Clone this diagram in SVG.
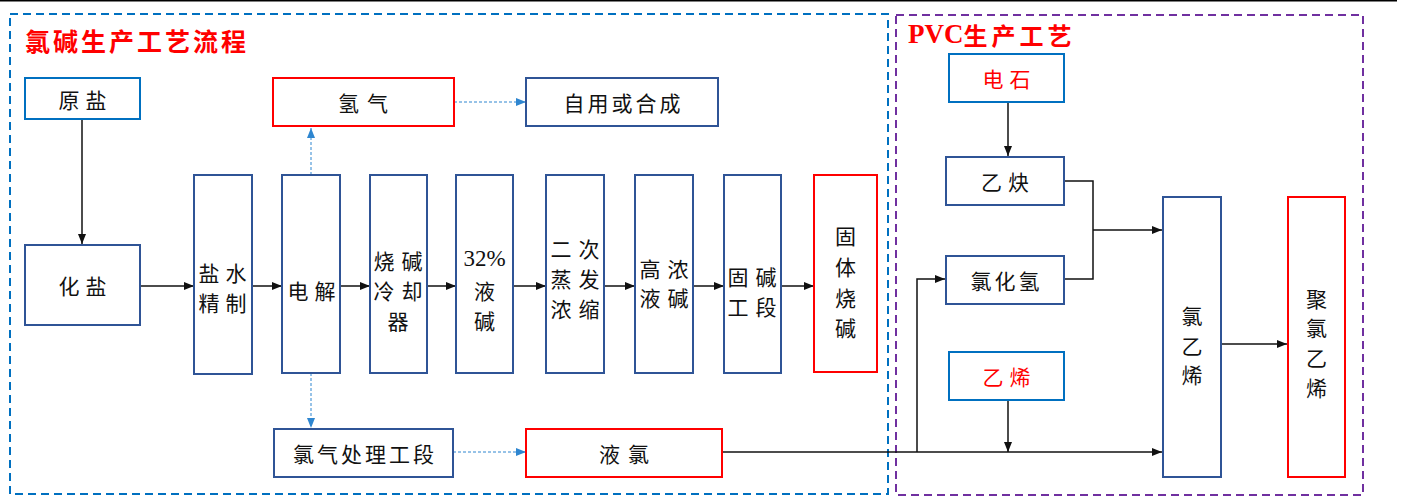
<svg xmlns="http://www.w3.org/2000/svg" width="1405" height="497" viewBox="0 0 1405 497">
<style>
.t{font-family:"Noto Sans CJK SC","Noto Sans CJK JP",sans-serif;font-size:21px;fill:#111;text-anchor:middle;dominant-baseline:central}
.r{fill:#FF0000}
.bx{fill:#fff;stroke:#2F5496;stroke-width:2}
.bl{fill:#fff;stroke:#0070C0;stroke-width:2}
.rd{fill:#fff;stroke:#FF0000;stroke-width:2}
.c{fill:none;stroke:#111;stroke-width:1.5}
.d{fill:none;stroke:#2E86D0;stroke-width:1;stroke-dasharray:3 2}
</style>
<defs>
<marker id="a" markerUnits="userSpaceOnUse" markerWidth="10" markerHeight="10" refX="10" refY="5" orient="auto" viewBox="0 0 10 10"><path d="M0,1 L10,5 L0,9 z" fill="#111"/></marker>
<marker id="b" markerUnits="userSpaceOnUse" markerWidth="10" markerHeight="10" refX="10" refY="5" orient="auto" viewBox="0 0 10 10"><path d="M0,1 L10,5 L0,9 z" fill="#2E86D0"/></marker>
</defs>
<rect width="1405" height="497" fill="#fff"/>
<line x1="0" y1="0.75" x2="1397" y2="0.75" stroke="#000" stroke-width="1.5"/>
<g id="frame-chloralkali">
<rect x="10" y="14" width="878" height="480" fill="none" stroke="#0070C0" stroke-width="2" stroke-dasharray="8 5"/>
<text x="25" y="40" class="t r" style="text-anchor:start;font-size:25px;font-weight:bold;letter-spacing:3px">氯碱生产工艺流程</text>
</g>
<g id="frame-pvc">
<rect x="896" y="15" width="467" height="480" fill="none" stroke="#7030A0" stroke-width="2" stroke-dasharray="8 5"/>
<text x="908" y="34" class="t r" style="text-anchor:start;font-size:24px;font-weight:bold;letter-spacing:4px"><tspan style="font-family:'Liberation Serif',serif;font-size:27px;letter-spacing:0">PVC</tspan>生产工艺</text>
</g>
<g id="connectors">
<path class="c" d="M82,119 V244" marker-end="url(#a)"/>
<path class="c" d="M140,286 H194" marker-end="url(#a)"/>
<path class="c" d="M252,286 H282" marker-end="url(#a)"/>
<path class="c" d="M340,286 H370" marker-end="url(#a)"/>
<path class="c" d="M427,286 H456" marker-end="url(#a)"/>
<path class="c" d="M513,286 H546" marker-end="url(#a)"/>
<path class="c" d="M604,286 H635" marker-end="url(#a)"/>
<path class="c" d="M693,286 H724" marker-end="url(#a)"/>
<path class="c" d="M781,286 H814" marker-end="url(#a)"/>
<path class="d" d="M311,175 V128" marker-end="url(#b)"/>
<path class="d" d="M311,373 V428" marker-end="url(#b)"/>
<path class="d" d="M454,102 H526" marker-end="url(#b)"/>
<path class="d" d="M453,452 H526" marker-end="url(#b)"/>
<path class="c" d="M722,452 H1162" marker-end="url(#a)"/>
<path class="c" d="M917,452 V279 H945" marker-end="url(#a)"/>
<path class="c" d="M1008,400 V452" marker-end="url(#a)"/>
<path class="c" d="M1008,102 V156" marker-end="url(#a)"/>
<path class="c" d="M1064,181 H1093 V279 H1064"/>
<path class="c" d="M1093,230 H1162" marker-end="url(#a)"/>
<path class="c" d="M1221,344 H1287" marker-end="url(#a)"/>
</g>
<g id="n-yuanyan"><rect class="bl" x="25" y="78" width="115" height="41"/><text class="t" x="85.5" y="98.5" style="letter-spacing:6px">原盐</text></g>
<g id="n-huayan"><rect class="bx" x="25" y="245" width="115" height="80"/><text class="t" x="85.5" y="285" style="letter-spacing:6px">化盐</text></g>
<g id="n-qingqi"><rect class="rd" x="273" y="78" width="181" height="48"/><text class="t" x="367" y="102" style="letter-spacing:8px">氢气</text></g>
<g id="n-ziyong"><rect class="bx" x="526" y="78" width="192" height="48"/><text class="t" x="623.5" y="102" style="letter-spacing:3px">自用或合成</text></g>
<g id="n-yanshui"><rect class="bx" x="194" y="175" width="58" height="199"/><text class="t" x="209" y="272">盐</text><text class="t" x="236" y="272">水</text><text class="t" x="209" y="302">精</text><text class="t" x="236" y="302">制</text></g>
<g id="n-dianjie"><rect class="bx" x="282" y="175" width="58" height="198"/><text class="t" x="298" y="290">电</text><text class="t" x="325" y="290">解</text></g>
<g id="n-shaojian"><rect class="bx" x="370" y="175" width="57" height="198"/><text class="t" x="384" y="260">烧</text><text class="t" x="412" y="260">碱</text><text class="t" x="384" y="290">冷</text><text class="t" x="412" y="290">却</text><text class="t" x="398" y="320">器</text></g>
<g id="n-yejian32"><rect class="bx" x="456" y="175" width="57" height="198"/><text class="t" x="484.5" y="258" style="font-family:'Liberation Serif',serif;font-size:23px">32%</text><text class="t" x="484.5" y="290">液</text><text class="t" x="484.5" y="320">碱</text></g>
<g id="n-erci"><rect class="bx" x="546" y="175" width="58" height="198"/><text class="t" x="561" y="248">二</text><text class="t" x="589" y="248">次</text><text class="t" x="561" y="278">蒸</text><text class="t" x="589" y="278">发</text><text class="t" x="561" y="308">浓</text><text class="t" x="589" y="308">缩</text></g>
<g id="n-gaonong"><rect class="bx" x="635" y="175" width="58" height="198"/><text class="t" x="650" y="268">高</text><text class="t" x="678" y="268">浓</text><text class="t" x="650" y="297">液</text><text class="t" x="678" y="297">碱</text></g>
<g id="n-gujian"><rect class="bx" x="724" y="175" width="57" height="198"/><text class="t" x="738" y="276">固</text><text class="t" x="766" y="276">碱</text><text class="t" x="738" y="306">工</text><text class="t" x="766" y="306">段</text></g>
<g id="n-guti"><rect class="rd" x="814" y="175" width="63" height="197"/><text class="t" x="845.5" y="235">固</text><text class="t" x="845.5" y="266">体</text><text class="t" x="845.5" y="297">烧</text><text class="t" x="845.5" y="327">碱</text></g>
<g id="n-lvqichuli"><rect class="bx" x="274" y="429" width="179" height="48"/><text class="t" x="365" y="453" style="letter-spacing:3px">氯气处理工段</text></g>
<g id="n-yelv"><rect class="rd" x="526" y="429" width="196" height="48"/><text class="t" x="628" y="453" style="letter-spacing:8px">液氯</text></g>
<g id="n-dianshi"><rect class="bl" x="949" y="54" width="115" height="48"/><text class="t r" x="1009.5" y="78" style="letter-spacing:6px">电石</text></g>
<g id="n-yique"><rect class="bx" x="946" y="157" width="118" height="48"/><text class="t" x="1008" y="181" style="letter-spacing:6px">乙炔</text></g>
<g id="n-lvhuaqing"><rect class="bx" x="946" y="256" width="118" height="48"/><text class="t" x="1006.5" y="280" style="letter-spacing:3px">氯化氢</text></g>
<g id="n-yixi"><rect class="bl" x="949" y="352" width="115" height="48"/><text class="t r" x="1009.5" y="376" style="letter-spacing:6px">乙烯</text></g>
<g id="n-lvyixi"><rect class="bx" x="1163" y="197" width="58" height="280"/><text class="t" x="1192" y="315">氯</text><text class="t" x="1192" y="345">乙</text><text class="t" x="1192" y="374">烯</text></g>
<g id="n-julvyixi"><rect class="rd" x="1288" y="197" width="57" height="280"/><text class="t" x="1316.5" y="298">聚</text><text class="t" x="1316.5" y="327">氯</text><text class="t" x="1316.5" y="357">乙</text><text class="t" x="1316.5" y="387">烯</text></g>
</svg>
